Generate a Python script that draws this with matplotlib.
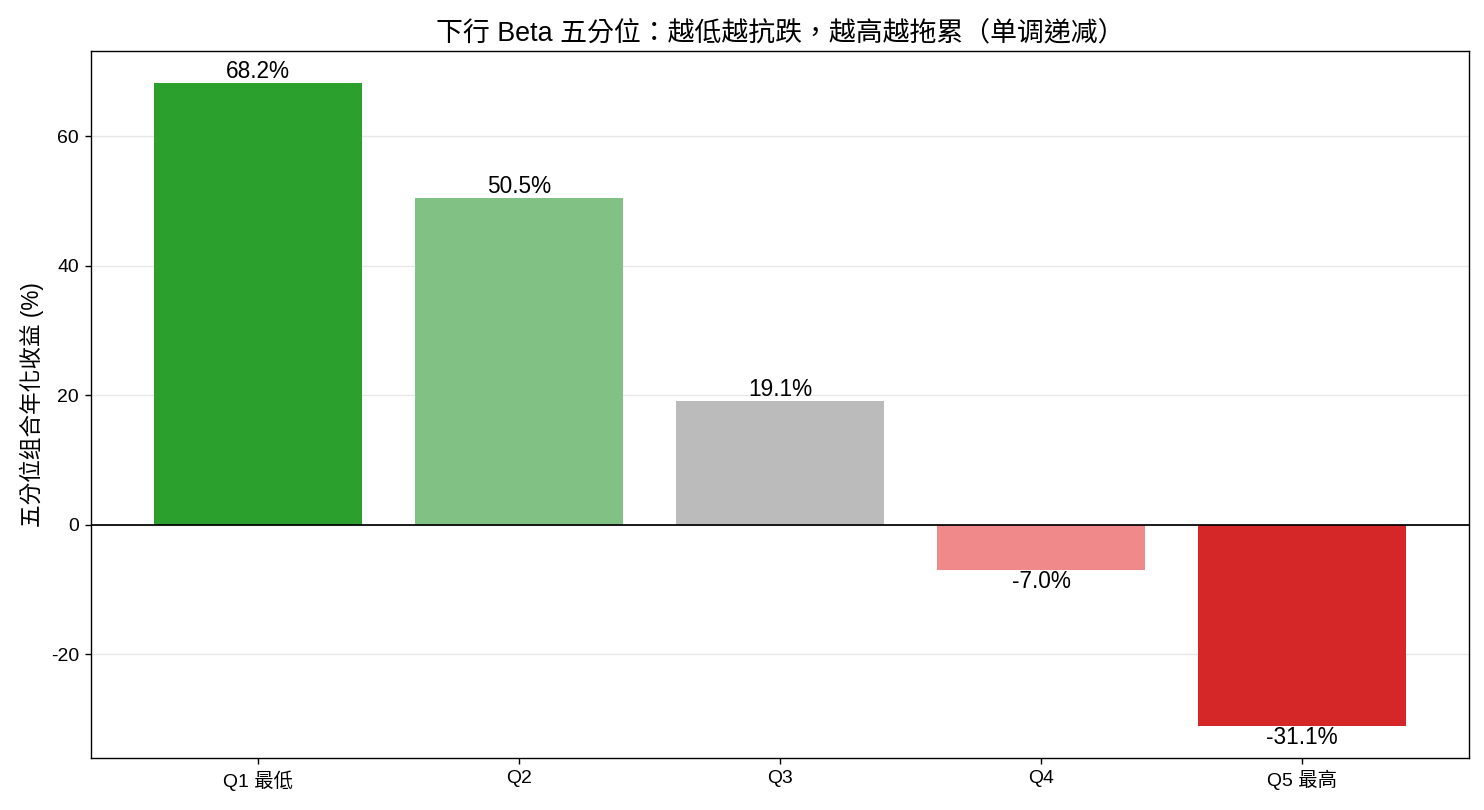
import matplotlib
matplotlib.use("Agg")
import matplotlib.pyplot as plt

plt.rcParams['font.family'] = ['Liberation Sans', 'Noto Sans CJK TC', 'DejaVu Sans']
plt.rcParams['axes.unicode_minus'] = False

labels = ["Q1 最低", "Q2", "Q3", "Q4", "Q5 最高"]
returns = [68.2, 50.5, 19.1, -7.0, -31.1]
colors = ["#2ca02c", "#81c184", "#bbbbbb", "#f08a8a", "#d62728"]

fig = plt.figure(figsize=(1484 / 125, 810 / 125), dpi=125)
ax = fig.add_axes([91 / 1484, 1 - 758 / 810, (1469 - 91) / 1484, (758 - 51) / 810])

x = range(len(labels))
bars = ax.bar(x, returns, color=colors, width=0.8, zorder=2)
ax.axhline(0, color="black", linewidth=1, zorder=3)
ax.grid(axis="y", alpha=0.3, zorder=0)
ax.set_axisbelow(True)

for b, v in zip(bars, returns):
    cx = b.get_x() + b.get_width() / 2
    if v >= 0:
        ax.text(cx, v, f"{v:.1f}%", ha="center", va="bottom", fontsize=13)
    else:
        ax.text(cx, v, f"{v:.1f}%", ha="center", va="top", fontsize=13)

ax.set_xticks(list(x))
ax.set_xticklabels(labels)
ax.tick_params(labelsize=11.2)
ax.set_ylabel("五分位组合年化收益 (%)", fontsize=13)
ax.set_title("下行 Beta 五分位：越低越抗跌，越高越拖累（单调递减）", fontsize=15.5)

fig.savefig("out.png", dpi=125)
